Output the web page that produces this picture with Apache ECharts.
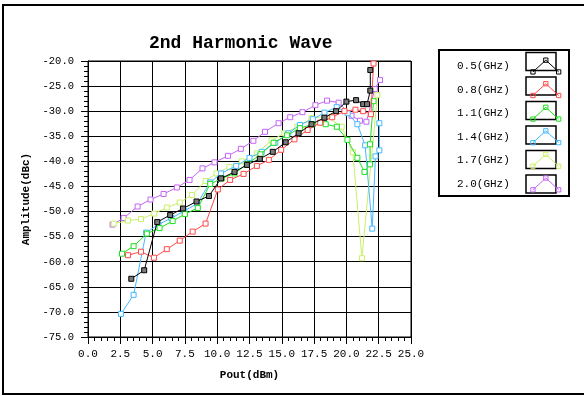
<!DOCTYPE html>
<html>
<head>
<meta charset="utf-8">
<script src="https://cdn.jsdelivr.net/npm/echarts@6/dist/echarts.min.js"></script>
<style>
  html, body { margin: 0; padding: 0; background: #fff; }
  #chart { width: 584px; height: 396px; }
</style>
</head>
<body>
<div id="chart"></div>
<script>
// Second-harmonic level versus output power, one trace per carrier frequency.
const freqNames = ['0.5(GHz)', '0.8(GHz)', '1.1(GHz)', '1.4(GHz)', '1.7(GHz)', '2.0(GHz)'];
const traceColors = ['#000000', '#ff4a4a', '#1ee01e', '#45b9ff', '#c9f06a', '#c566f5'];

const pout05 = [3.35, 4.35, 5.36, 6.36, 7.35, 8.4, 9.36, 10.3, 11.34, 12.3, 13.3, 14.3, 15.3, 16.3, 17.3, 18.3, 19.2, 20.0, 20.75, 21.3, 21.6, 21.85, 21.85];
const amp05  = [-63.4, -61.7, -52.1, -50.7, -49.4, -48.0, -46.9, -43.4, -42.1, -40.7, -39.5, -38.1, -36.2, -34.4, -32.6, -31.3, -30.0, -28.1, -27.8, -28.6, -28.6, -25.9, -21.8];

const pout08 = [3.1, 4.1, 5.1, 6.1, 7.1, 8.1, 9.1, 10.05, 11.0, 12.04, 13.07, 14.0, 14.95, 15.98, 17.0, 17.97, 18.9, 19.85, 20.7, 21.3, 21.9, 22.1];
const amp08  = [-58.7, -58.0, -59.2, -57.5, -55.8, -54.0, -52.4, -45.6, -43.7, -42.5, -40.9, -39.7, -37.7, -35.6, -33.75, -32.3, -31.2, -30.0, -29.7, -30.0, -30.6, -20.5];

const pout11 = [2.63, 3.53, 4.56, 5.54, 6.55, 7.5, 8.5, 9.46, 10.36, 11.34, 12.3, 13.35, 14.36, 15.4, 16.4, 17.4, 18.4, 19.26, 20.08, 20.85, 21.4, 21.83, 21.83, 22.1];
const amp11  = [-58.4, -56.9, -54.4, -53.3, -51.9, -50.5, -49.3, -44.5, -43.4, -42.4, -40.6, -38.6, -36.3, -34.8, -33.4, -32.6, -32.6, -33.1, -35.7, -39.3, -42.1, -40.6, -36.6, -28.0];

const pout14 = [2.55, 3.53, 4.5, 5.45, 6.45, 7.45, 8.45, 9.45, 10.3, 11.47, 12.5, 13.45, 14.5, 15.5, 16.4, 17.4, 18.3, 19.25, 20.1, 20.85, 21.45, 22.0, 22.25, 22.55, 22.55];
const amp14  = [-70.4, -66.6, -54.2, -52.6, -51.3, -49.9, -48.4, -44.2, -42.4, -40.9, -39.3, -38.1, -36.3, -34.4, -32.75, -31.6, -30.3, -29.2, -30.4, -32.6, -36.8, -53.4, -39.0, -37.8, -32.4];

const pout17 = [2.0, 3.09, 4.1, 5.13, 6.1, 7.1, 8.04, 9.1, 9.95, 10.95, 11.9, 13.07, 14.2, 15.2, 16.2, 17.3, 18.4, 19.64, 20.5, 21.2, 22.4];
const amp17  = [-52.4, -51.8, -51.5, -50.4, -49.2, -48.2, -46.7, -43.9, -42.4, -41.1, -40.0, -38.4, -35.8, -34.4, -33.1, -31.4, -31.0, -33.1, -38.2, -59.3, -26.8];

const pout20 = [1.9, 2.76, 3.84, 4.84, 5.85, 6.88, 7.86, 8.86, 9.79, 10.83, 11.83, 12.8, 13.7, 14.75, 15.65, 16.6, 17.6, 18.5, 19.4, 20.4, 21.05, 21.55, 22.2, 22.6];
const amp20  = [-52.6, -51.3, -49.0, -47.6, -46.5, -45.2, -43.7, -41.4, -40.2, -38.9, -37.5, -35.9, -34.1, -32.4, -31.2, -30.2, -28.8, -27.9, -28.3, -30.9, -31.9, -32.1, -25.6, -23.8];

const xTicks = { min: 0, max: 25, step: 2.5 };
const yTicks = { min: -75, max: -20, step: 5 };

const traces = [
  [pout05, amp05], [pout08, amp08], [pout11, amp11],
  [pout14, amp14], [pout17, amp17], [pout20, amp20]
];

const monoFont = '"Liberation Mono", "DejaVu Sans Mono", monospace';

// inverted-V glyph with square markers, used as the legend swatch
const swatchPath = 'path://M3,15 L15,4 L27,15 M1,13 h4 v4 h-4 z M13,2 h4 v4 h-4 z M25,13 h4 v4 h-4 z';

const series = traces.map(function (t, i) {
  const pts = t[0].map(function (x, k) { return [x, t[1][k]]; });
  return {
    name: freqNames[i],
    type: 'line',
    data: pts,
    symbol: 'rect',
    symbolSize: 5,
    z: 10 - i,
    lineStyle: { color: traceColors[i], width: 1 },
    itemStyle: {
      color: i === 0 ? '#7a7a7a' : '#ffffff',
      borderColor: traceColors[i],
      borderWidth: 1
    },
    emphasis: { disabled: true },
    animation: false
  };
});

const legendTop = 52.5;
const rowStep = 24.5;
const graphics = [
  // outer frame
  { type: 'rect', shape: { x: 3, y: 5, width: 600, height: 389 },
    style: { fill: 'none', stroke: '#000', lineWidth: 2 }, silent: true },
  // legend box
  { type: 'rect', shape: { x: 439, y: 50, width: 130, height: 146 },
    style: { fill: 'none', stroke: '#000', lineWidth: 2 }, silent: true }
];
freqNames.forEach(function (n, i) {
  graphics.push({
    type: 'rect',
    shape: { x: 526, y: legendTop + i * rowStep, width: 30, height: 18 },
    style: { fill: 'none', stroke: '#000', lineWidth: 1.5 },
    silent: true, z: 0
  });
});

const chart = echarts.init(document.getElementById('chart'), null, { renderer: 'canvas' });
chart.setOption({
  backgroundColor: '#ffffff',
  animation: false,
  title: {
    text: '2nd Harmonic Wave',
    left: 144,
    top: 29,
    textStyle: { fontFamily: monoFont, fontSize: 18, fontWeight: 'bold', color: '#000' }
  },
  grid: { left: 88, right: 173, top: 61, bottom: 59, show: true, borderColor: '#000', borderWidth: 1 },
  legend: {
    orient: 'vertical',
    left: 452,
    top: legendTop,
    align: 'right',
    itemWidth: 30,
    itemHeight: 18,
    itemGap: rowStep - 18,
    selectedMode: false,
    textStyle: { fontFamily: monoFont, fontSize: 11, color: '#000', padding: [0, 16, 0, 0] },
    data: freqNames.map(function (n, i) {
      return {
        name: n,
        icon: swatchPath,
        itemStyle: { color: 'rgba(0,0,0,0)', borderColor: traceColors[i], borderWidth: 1 }
      };
    })
  },
  xAxis: {
    type: 'value',
    min: xTicks.min, max: xTicks.max, interval: xTicks.step,
    name: 'Pout(dBm)',
    nameLocation: 'middle',
    nameGap: 33,
    nameTextStyle: { fontFamily: monoFont, fontSize: 11, fontWeight: 'bold', color: '#000' },
    axisLine: { show: true, lineStyle: { color: '#000', width: 1 } },
    axisTick: { show: true, length: 7, lineStyle: { color: '#000' } },
    minorTick: { show: true, splitNumber: 5, length: 4, lineStyle: { color: '#000' } },
    axisLabel: {
      fontFamily: monoFont, fontSize: 11, color: '#000', margin: 12,
      formatter: function (v) { return v.toFixed(1); }
    },
    splitLine: { show: true, lineStyle: { color: '#000', width: 1 } }
  },
  yAxis: {
    type: 'value',
    min: yTicks.min, max: yTicks.max, interval: yTicks.step,
    name: 'Amplitude(dBc)',
    nameLocation: 'middle',
    nameGap: 48,
    nameTextStyle: { fontFamily: monoFont, fontSize: 11, fontWeight: 'bold', color: '#000' },
    axisLine: { show: true, lineStyle: { color: '#000', width: 1 } },
    axisTick: { show: true, length: 7, lineStyle: { color: '#000' } },
    minorTick: { show: true, splitNumber: 5, length: 4, lineStyle: { color: '#000' } },
    axisLabel: {
      fontFamily: monoFont, fontSize: 10.5, color: '#000', margin: 14,
      formatter: function (v) { return v.toFixed(1); }
    },
    splitLine: { show: true, lineStyle: { color: '#000', width: 1 } }
  },
  graphic: graphics,
  series: series
});
</script>
</body>
</html>
